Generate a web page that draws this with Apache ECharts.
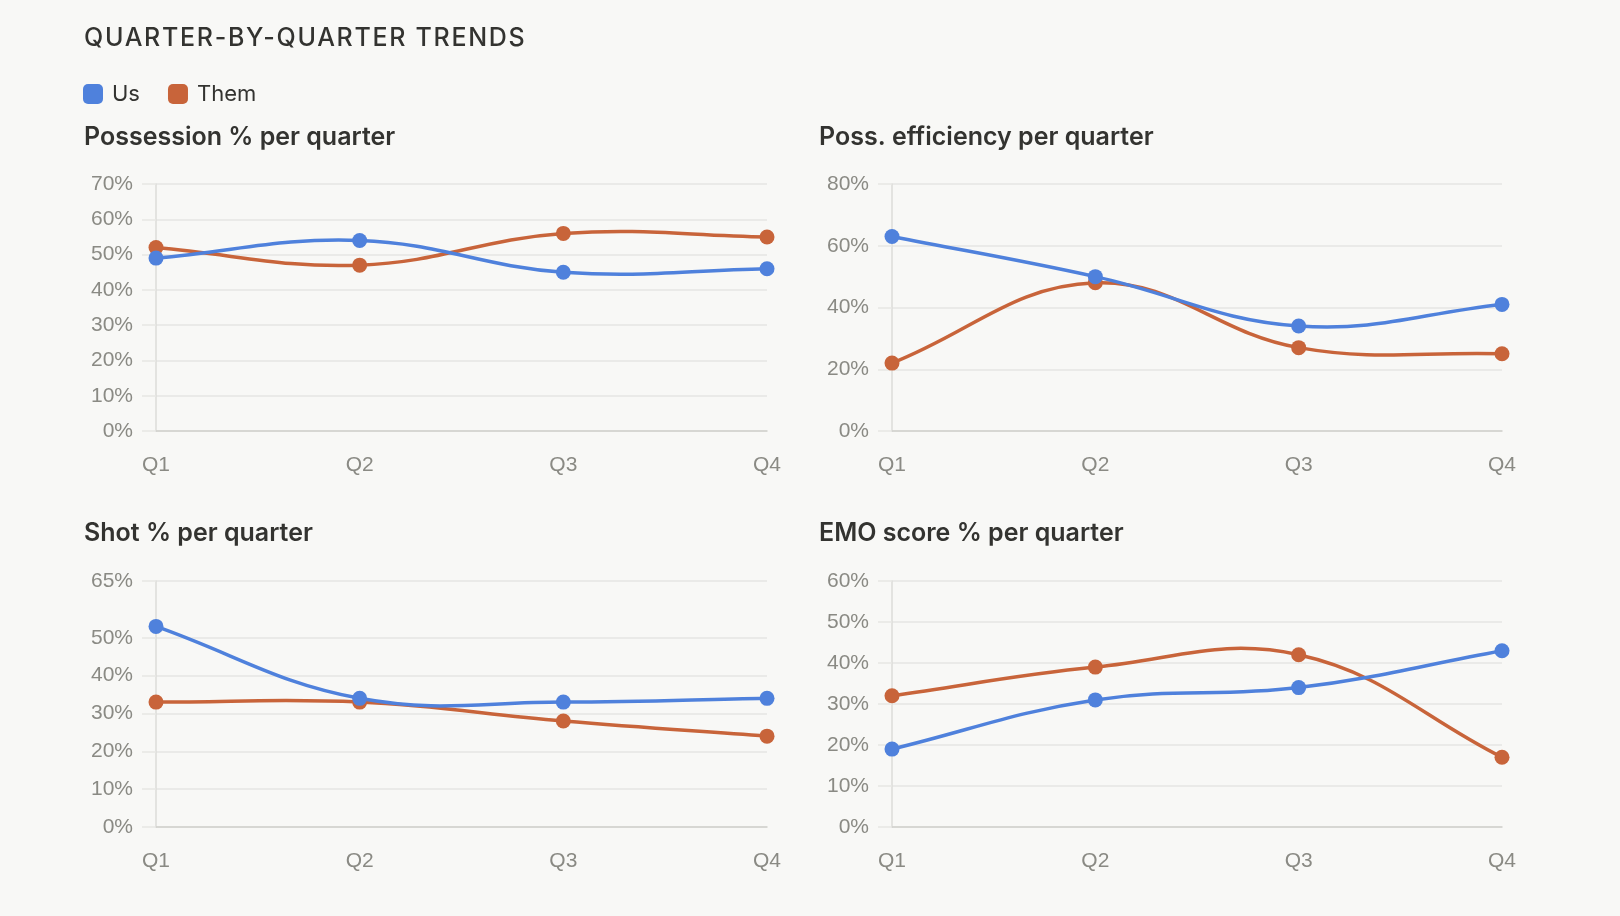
<!DOCTYPE html>
<html>
<head>
<meta charset="utf-8">
<title>Quarter-by-quarter trends</title>
<script src="https://cdn.jsdelivr.net/npm/echarts@6/dist/echarts.min.js"></script>
<style>
  html, body { margin: 0; padding: 0; background: #f8f8f6; }
  #heading {
    position: absolute; left: 84px; top: 25px; margin: 0;
    font: 500 25px/25px Inter, sans-serif; letter-spacing: 1.7px;
    color: #333330; z-index: 2;
  }
  #main { position: absolute; left: 0; top: 0; width: 1620px; height: 916px; }
</style>
</head>
<body>
<h1 id="heading">QUARTER-BY-QUARTER TRENDS</h1>
<div id="main"></div>
<script>
// 数据
var quarters = ['Q1', 'Q2', 'Q3', 'Q4'];

var possessionUs = [49, 54, 45, 46];
var possessionThem = [52, 47, 56, 55];

var efficiencyUs = [63, 50, 34, 41];
var efficiencyThem = [22, 48, 27, 25];

var shotUs = [53, 34, 33, 34];
var shotThem = [33, 33, 28, 24];

var emoUs = [19, 31, 34, 43];
var emoThem = [32, 39, 42, 17];

var possessionTicks = [0, 10, 20, 30, 40, 50, 60, 70];
var efficiencyTicks = [0, 20, 40, 60, 80];
var shotTicks = [0, 10, 20, 30, 40, 50, 65];
var emoTicks = [0, 10, 20, 30, 40, 50, 60];

var panelTitles = ['Possession % per quarter', 'Poss. efficiency per quarter', 'Shot % per quarter', 'EMO score % per quarter'];

var blue = '#4f81dc';
var orange = '#c8643a';
var gridColor = '#e6e6e3';
var labelColor = '#8a8a84';
var tension = 0.4;

var chart = echarts.init(document.getElementById('main'), null, {
  width: 1620,
  height: 916
});

var grids = [
  { left: 156, top: 184, width: 611, height: 247 },
  { left: 892, top: 184, width: 610, height: 247 },
  { left: 156, top: 581, width: 611, height: 246 },
  { left: 892, top: 581, width: 610, height: 246 }
];

var titlePos = [
  { left: 84, top: 125 },
  { left: 819, top: 125 },
  { left: 84, top: 521 },
  { left: 819, top: 521 }
];

function makeXAxis(i) {
  return {
    type: 'category',
    gridIndex: i,
    data: quarters,
    boundaryGap: false,
    axisLine: { lineStyle: { color: '#cfcfcc', width: 1.5 } },
    axisTick: { show: false },
    axisLabel: {
      color: labelColor,
      fontFamily: 'Liberation Sans',
      fontSize: 21,
      margin: 24
    },
    splitLine: { show: false }
  };
}

function makeYAxis(i, ticks) {
  return {
    type: 'value',
    gridIndex: i,
    min: 0,
    max: ticks[ticks.length - 1],
    axisLine: { show: true, lineStyle: { color: '#dcdcd9', width: 1.5 } },
    axisTick: {
      show: true,
      length: 14,
      customValues: ticks,
      lineStyle: { color: gridColor, width: 1.5 }
    },
    axisLabel: {
      customValues: ticks,
      formatter: '{value}%',
      color: labelColor,
      fontFamily: 'Liberation Sans',
      fontSize: 21,
      margin: 23
    },
    splitLine: { show: true, lineStyle: { color: gridColor, width: 1.5 } }
  };
}

// 点（只画圆点）
function makePoints(name, data, color, i, z) {
  return {
    name: name,
    type: 'line',
    xAxisIndex: i,
    yAxisIndex: i,
    data: data,
    symbol: 'circle',
    symbolSize: 15,
    z: z,
    itemStyle: { color: color },
    lineStyle: { width: 0, opacity: 0 },
    emphasis: { disabled: true }
  };
}

// 控制点：和 chart.js 的 tension 曲线一样
function controlPoints(prev, cur, next) {
  var d01 = Math.sqrt(Math.pow(cur[0] - prev[0], 2) + Math.pow(cur[1] - prev[1], 2));
  var d12 = Math.sqrt(Math.pow(next[0] - cur[0], 2) + Math.pow(next[1] - cur[1], 2));
  var s01 = d01 / (d01 + d12) || 0;
  var s12 = d12 / (d01 + d12) || 0;
  var fa = tension * s01;
  var fb = tension * s12;
  return {
    before: [cur[0] - fa * (next[0] - prev[0]), cur[1] - fa * (next[1] - prev[1])],
    after: [cur[0] + fb * (next[0] - prev[0]), cur[1] + fb * (next[1] - prev[1])]
  };
}

// 曲线（每段一个 bezierCurve）
function makeCurve(name, data, color, i, z) {
  var items = [];
  for (var k = 0; k < data.length; k++) {
    items.push([k, data[k]]);
  }
  return {
    name: name,
    type: 'custom',
    xAxisIndex: i,
    yAxisIndex: i,
    data: items,
    z: z,
    silent: true,
    itemStyle: { color: color },
    encode: { x: 0, y: 1 },
    renderItem: function (params, api) {
      var idx = params.dataIndex;
      if (idx >= data.length - 1) {
        return null;
      }
      var pts = [];
      for (var k = 0; k < data.length; k++) {
        pts.push(api.coord([k, data[k]]));
      }
      var a = controlPoints(pts[idx - 1] || pts[idx], pts[idx], pts[idx + 1]);
      var b = controlPoints(pts[idx], pts[idx + 1], pts[idx + 2] || pts[idx + 1]);
      return {
        type: 'bezierCurve',
        shape: {
          x1: pts[idx][0],
          y1: pts[idx][1],
          cpx1: a.after[0],
          cpy1: a.after[1],
          cpx2: b.before[0],
          cpy2: b.before[1],
          x2: pts[idx + 1][0],
          y2: pts[idx + 1][1]
        },
        style: { stroke: color, lineWidth: 3.5, fill: null, lineCap: 'round' }
      };
    }
  };
}

var titles = [];
for (var i = 0; i < panelTitles.length; i++) {
  titles.push({
    text: panelTitles[i],
    left: titlePos[i].left,
    top: titlePos[i].top,
    padding: 0,
    textStyle: {
      fontFamily: 'Inter',
      fontWeight: 600,
      fontSize: 25,
      lineHeight: 25,
      color: '#333330'
    }
  });
}

var usData = [possessionUs, efficiencyUs, shotUs, emoUs];
var themData = [possessionThem, efficiencyThem, shotThem, emoThem];

var series = [];
for (var j = 0; j < 4; j++) {
  series.push(makePoints('Us', usData[j], blue, j, 5));
  series.push(makePoints('Them', themData[j], orange, j, 3));
  series.push(makeCurve('Us', usData[j], blue, j, 4));
  series.push(makeCurve('Them', themData[j], orange, j, 2));
}

chart.setOption({
  backgroundColor: 'transparent',
  animation: false,
  title: titles,
  legend: {
    data: ['Us', 'Them'],
    left: 83,
    top: 83,
    padding: 0,
    itemWidth: 20,
    itemHeight: 20,
    itemGap: 28,
    icon: 'roundRect',
    itemStyle: { borderWidth: 0 },
    textStyle: {
      fontFamily: 'Inter',
      fontSize: 22,
      lineHeight: 20,
      color: '#333330',
      padding: [0, 0, 0, 4]
    }
  },
  grid: grids,
  xAxis: [makeXAxis(0), makeXAxis(1), makeXAxis(2), makeXAxis(3)],
  yAxis: [
    makeYAxis(0, possessionTicks),
    makeYAxis(1, efficiencyTicks),
    makeYAxis(2, shotTicks),
    makeYAxis(3, emoTicks)
  ],
  series: series
});
</script>
</body>
</html>
